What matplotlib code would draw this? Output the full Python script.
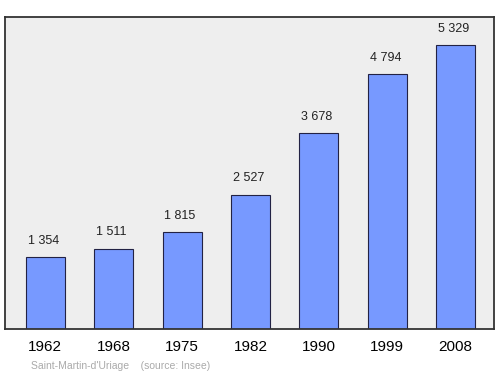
import matplotlib.pyplot as plt

plt.rcParams["font.family"] = ["Liberation Sans", "DejaVu Sans"]

# ======= データ =======
years = ["1962", "1968", "1975", "1982", "1990", "1999", "2008"]
population = [1354, 1511, 1815, 2527, 3678, 4794, 5329]
value_labels = ["1 354", "1 511", "1 815", "2 527", "3 678", "4 794", "5 329"]

fig = plt.figure(figsize=(5, 3.74), dpi=100)
ax = fig.add_axes([0.01, 0.1203, 0.978, 0.8342])
ax.set_facecolor("#eeeeee")

x = list(range(len(years)))
ax.bar(x, population, width=0.57, color="#7799ff", edgecolor="#222244", linewidth=0.8)

for xi, v, lab in zip(x, population, value_labels):
    ax.text(xi - 0.03, v + 5329 * 0.036, lab, ha="center", va="bottom", fontsize=9, color="#222222")

ax.set_xlim(-0.59, 6.56)
ax.set_ylim(0, 5329 * 1.1)
ax.set_xticks(x)
ax.set_xticklabels(years, fontsize=11)
ax.tick_params(axis="x", length=0, pad=8)
ax.set_yticks([])
for s in ax.spines.values():
    s.set_linewidth(1.3)
    s.set_color("#333333")

fig.text(0.062, 0.014, "Saint-Martin-d'Uriage    (source: Insee)", fontsize=7.5, color="#aaaaaa")

plt.savefig("out.png", dpi=100)
